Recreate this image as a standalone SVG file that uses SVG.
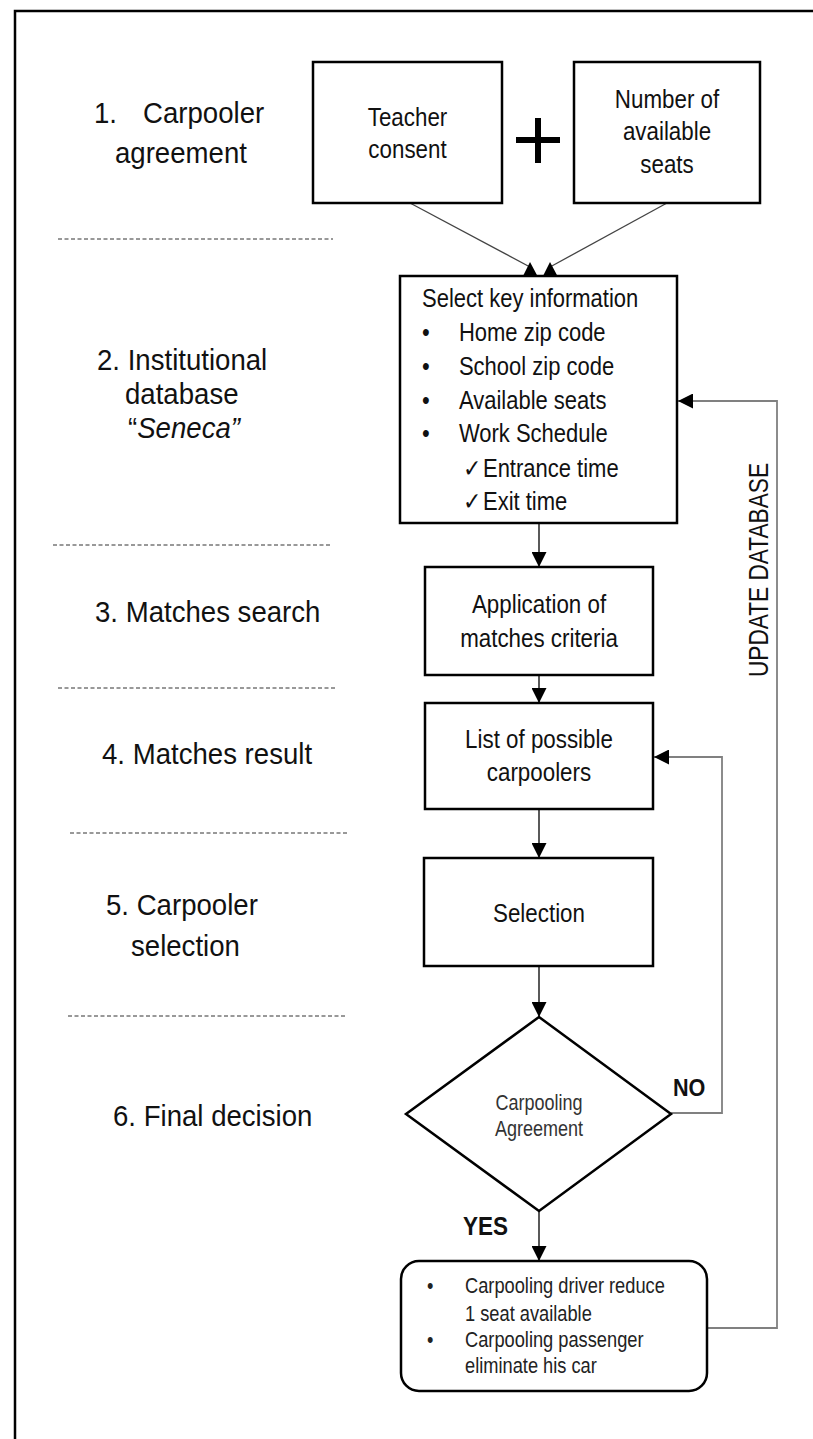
<svg xmlns="http://www.w3.org/2000/svg" width="813" height="1439" viewBox="0 0 813 1439">
<style>
text{font-family:"Liberation Sans",Arial,sans-serif;fill:#111}
.lbl{font-size:30px}
.bx{font-size:26px}
.sk{font-size:25px}
.dm{font-size:22px;fill:#333}
.rb{font-size:22px;fill:#222}
.bold{font-weight:bold}
.box{fill:#fff;stroke:#000;stroke-width:2.5}
.dash{stroke:#333;stroke-width:1;stroke-dasharray:4 2.5;fill:none}
.flow{stroke:#000;stroke-width:1.3;fill:none}
.diag{stroke:#444;stroke-width:1.3;fill:none}
.loop{stroke:#808080;stroke-width:1.8;fill:none}
.chk{font-family:"DejaVu Sans",sans-serif}
</style>
<defs>
<marker id="arr" markerUnits="userSpaceOnUse" viewBox="0 0 15 15" refX="15" refY="7.5" markerWidth="15" markerHeight="15" orient="auto">
<path d="M0,0 L15,7.5 L0,15 z" fill="#000"/>
</marker>
</defs>
<rect width="813" height="1439" fill="#fff"/>
<path d="M15,1439 V11 H813" fill="none" stroke="#000" stroke-width="2.5"/>

<g id="stage-labels">
<text class="lbl" transform="translate(94,123) scale(.92,1)"><tspan x="0">1.</tspan><tspan x="53.3">Carpooler</tspan></text>
<text class="lbl" transform="translate(115,163) scale(.92,1)">agreement</text>
<text class="lbl" transform="translate(97,370) scale(.92,1)">2. Institutional</text>
<text class="lbl" transform="translate(125,404) scale(.92,1)">database</text>
<text class="lbl" transform="translate(128,438) scale(.92,1)">“<tspan font-style="italic">Seneca”</tspan></text>
<text class="lbl" transform="translate(95,622) scale(.92,1)">3. Matches search</text>
<text class="lbl" transform="translate(102,764) scale(.92,1)">4. Matches result</text>
<text class="lbl" transform="translate(106,915) scale(.92,1)">5. Carpooler</text>
<text class="lbl" transform="translate(131,956) scale(.92,1)">selection</text>
<text class="lbl" transform="translate(113,1126) scale(.92,1)">6. Final decision</text>
</g>

<g id="separators">
<line class="dash" x1="58" y1="239" x2="333" y2="239"/>
<line class="dash" x1="53" y1="545" x2="332" y2="545"/>
<line class="dash" x1="58" y1="688" x2="335" y2="688"/>
<line class="dash" x1="70" y1="833" x2="347" y2="833"/>
<line class="dash" x1="68" y1="1016" x2="347" y2="1016"/>
</g>

<g id="connectors">
<line class="diag" x1="410" y1="203" x2="530" y2="267"/>
<line class="diag" x1="667" y1="203" x2="550" y2="267"/>
<polygon points="522.5,277 538,277 530,262" fill="#000"/>
<polygon points="542.5,277 558,277 550,262" fill="#000"/>
<line class="flow" x1="539" y1="524" x2="539" y2="567" marker-end="url(#arr)"/>
<line class="flow" x1="539" y1="675" x2="539" y2="703" marker-end="url(#arr)"/>
<line class="flow" x1="539" y1="809" x2="539" y2="858" marker-end="url(#arr)"/>
<line class="flow" x1="539" y1="966" x2="539" y2="1017" marker-end="url(#arr)"/>
<line class="flow" x1="539" y1="1211" x2="539" y2="1261" marker-end="url(#arr)"/>
<polyline class="loop" points="671,1113 722,1113 722,757 654,757" marker-end="url(#arr)"/>
<polyline class="loop" points="707,1328 777,1328 777,401 678,401" marker-end="url(#arr)"/>
<text class="bold" font-size="24" transform="translate(673,1096) scale(.9,1)">NO</text>
<text class="bold" font-size="25" transform="translate(463,1235) scale(.9,1)">YES</text>
<text font-size="28" text-anchor="middle" transform="translate(768,570) rotate(-90) scale(.81,1)">UPDATE DATABASE</text>
</g>

<g id="teacher-consent">
<rect class="box" x="313" y="62" width="189" height="141"/>
<text class="bx" text-anchor="middle" transform="translate(407.5,126) scale(.86,1)">Teacher</text>
<text class="bx" text-anchor="middle" transform="translate(407.5,158) scale(.86,1)">consent</text>
</g>

<g id="plus">
<rect x="516" y="137" width="44" height="6" fill="#000"/>
<rect x="535" y="118" width="6" height="45" fill="#000"/>
</g>

<g id="available-seats">
<rect class="box" x="574" y="62" width="186" height="141"/>
<text class="bx" text-anchor="middle" transform="translate(667,108) scale(.86,1)">Number of</text>
<text class="bx" text-anchor="middle" transform="translate(667,140) scale(.86,1)">available</text>
<text class="bx" text-anchor="middle" transform="translate(667,173) scale(.86,1)">seats</text>
</g>

<g id="select-key-info">
<rect class="box" x="400" y="276" width="277" height="247"/>
<text class="sk" transform="translate(422,307) scale(.88,1)">Select key information</text>
<text class="sk" transform="translate(422,341) scale(.88,1)"><tspan x="0">•</tspan><tspan x="42">Home zip code</tspan></text>
<text class="sk" transform="translate(422,375) scale(.88,1)"><tspan x="0">•</tspan><tspan x="42">School zip code</tspan></text>
<text class="sk" transform="translate(422,409) scale(.88,1)"><tspan x="0">•</tspan><tspan x="42">Available seats</tspan></text>
<text class="sk" transform="translate(422,442) scale(.88,1)"><tspan x="0">•</tspan><tspan x="42">Work Schedule</tspan></text>
<text class="sk" transform="translate(463,477) scale(.88,1)"><tspan class="chk" x="0">✓</tspan><tspan x="22.7">Entrance time</tspan></text>
<text class="sk" transform="translate(463,510) scale(.88,1)"><tspan class="chk" x="0">✓</tspan><tspan x="22.7">Exit time</tspan></text>
</g>

<g id="matches-criteria">
<rect class="box" x="425" y="567" width="228" height="108"/>
<text class="bx" text-anchor="middle" transform="translate(539,613) scale(.86,1)">Application of</text>
<text class="bx" text-anchor="middle" transform="translate(539,647) scale(.86,1)">matches criteria</text>
</g>

<g id="possible-carpoolers">
<rect class="box" x="425" y="703" width="228" height="106"/>
<text class="bx" text-anchor="middle" transform="translate(539,748) scale(.86,1)">List of possible</text>
<text class="bx" text-anchor="middle" transform="translate(539,781) scale(.86,1)">carpoolers</text>
</g>

<g id="selection">
<rect class="box" x="424" y="858" width="229" height="108"/>
<text class="bx" text-anchor="middle" transform="translate(539,922) scale(.86,1)">Selection</text>
</g>

<g id="decision">
<polygon class="box" points="539,1017 671,1114 539,1211 406,1114"/>
<text class="dm" text-anchor="middle" transform="translate(539,1110) scale(.82,1)">Carpooling</text>
<text class="dm" text-anchor="middle" transform="translate(539,1136) scale(.82,1)">Agreement</text>
</g>

<g id="outcome">
<rect class="box" x="401" y="1261" width="306" height="130" rx="18" ry="18"/>
<text class="rb" transform="translate(427,1293) scale(.83,1)">•</text>
<text class="rb" transform="translate(465,1293) scale(.83,1)">Carpooling driver reduce</text>
<text class="rb" transform="translate(465,1321) scale(.83,1)">1 seat available</text>
<text class="rb" transform="translate(427,1347) scale(.83,1)">•</text>
<text class="rb" transform="translate(465,1347) scale(.83,1)">Carpooling passenger</text>
<text class="rb" transform="translate(465,1373) scale(.83,1)">eliminate his car</text>
</g>
</svg>
